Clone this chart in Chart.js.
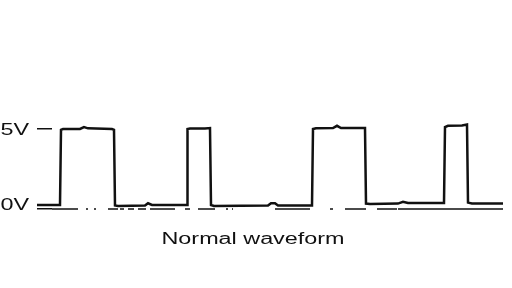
<!DOCTYPE html>
<html><head><meta charset="utf-8">
<script src="https://cdn.jsdelivr.net/npm/chart.js@4/dist/chart.umd.min.js"></script>
<style>html,body{margin:0;padding:0;background:#fff;overflow:hidden}</style>
</head><body>
<canvas id="c" width="512" height="288"></canvas>
<script>
// ---- data ----
const chartTitle = 'Normal waveform';
const tickValues = [0, 5];
const tickLabels = ['0V', '5V'];
const timeValues = [-15, 8, 9, 11, 28, 32, 36, 60, 62, 63, 66, 93, 96, 100, 135, 135.5, 138, 153, 158, 159, 162, 216, 219, 223, 226, 260, 261, 264, 281, 285, 289, 313, 314, 318, 346, 351, 356, 392, 393, 396, 410, 415, 416, 420, 451];
const voltValues = [0.25, 0.25, 4.95, 5.0, 5.0, 5.12, 5.04, 5.0, 4.95, 0.22, 0.19, 0.22, 0.36, 0.25, 0.25, 5.0, 5.03, 5.03, 5.06, 0.25, 0.19, 0.22, 0.36, 0.36, 0.22, 0.22, 5.0, 5.05, 5.06, 5.2, 5.06, 5.06, 0.34, 0.31, 0.34, 0.45, 0.37, 0.37, 5.12, 5.2, 5.22, 5.28, 0.4, 0.34, 0.34];
const baselineTime = [0, 451];
const baselineVolt = [0, 0];

// ---- styles ----
const INK = '#111';
const FONT = '16px "Liberation Sans", Arial, sans-serif';
const STRETCH = 1.46;
const LABEL_BASELINE = [1, 6];
const TITLE_CENTER_X = 253;
const TITLE_BASELINE = 18.5;

const waveform = timeValues.map((t, i) => ({x: t, y: voltValues[i]}));
const baseline = baselineTime.map((t, i) => ({x: t, y: baselineVolt[i]}));

const stretchText = {
  id: 'stretchText',
  afterDraw(chart) {
    const ctx = chart.ctx;
    const ys = chart.scales.y;
    ctx.save();
    ctx.fillStyle = INK;
    ctx.font = FONT;
    ctx.textBaseline = 'alphabetic';
    ctx.textAlign = 'left';
    tickValues.forEach((v, i) => {
      const py = ys.getPixelForValue(v) + LABEL_BASELINE[i];
      ctx.save();
      ctx.translate(0.5, py);
      ctx.scale(STRETCH, 1);
      ctx.fillText(tickLabels[i], 0, 0);
      ctx.restore();
    });
    const w = ctx.measureText(chartTitle).width * STRETCH;
    ctx.save();
    ctx.translate(TITLE_CENTER_X - w / 2, chart.chartArea.bottom + TITLE_BASELINE);
    ctx.scale(STRETCH, 1);
    ctx.fillText(chartTitle, 0, 0);
    ctx.restore();
    ctx.restore();
  }
};

new Chart(document.getElementById('c'), {
  type: 'line',
  data: {
    datasets: [
      {
        data: waveform,
        borderColor: INK,
        borderWidth: 2.5,
        pointRadius: 0,
        tension: 0,
        clip: false,
        fill: false
      },
      {
        data: baseline,
        borderColor: INK,
        borderWidth: 1.5,
        borderDash: [26,8,2,6,2,12,10,2,4,4,6,4,8,4,25,10,5,8,17,11,2,4,1,42,35,20,3,12,21,11,20,1,106],
        pointRadius: 0,
        fill: false
      }
    ]
  },
  options: {
    responsive: false,
    animation: false,
    devicePixelRatio: 1,
    layout: {padding: {left: 37, top: 113, right: 9, bottom: 63}},
    plugins: {legend: {display: false}, title: {display: false}, tooltip: {enabled: false}},
    scales: {
      x: {type: 'linear', min: 0, max: 451, display: false},
      y: {
        type: 'linear', min: -1, max: 6,
        afterBuildTicks: s => { s.ticks = tickValues.map(v => ({value: v})); },
        ticks: {display: false},
        border: {display: false},
        grid: {color: INK, lineWidth: 1.5, drawOnChartArea: false, drawTicks: true, tickLength: 15}
      }
    }
  },
  plugins: [stretchText]
});
</script>
</body></html>
